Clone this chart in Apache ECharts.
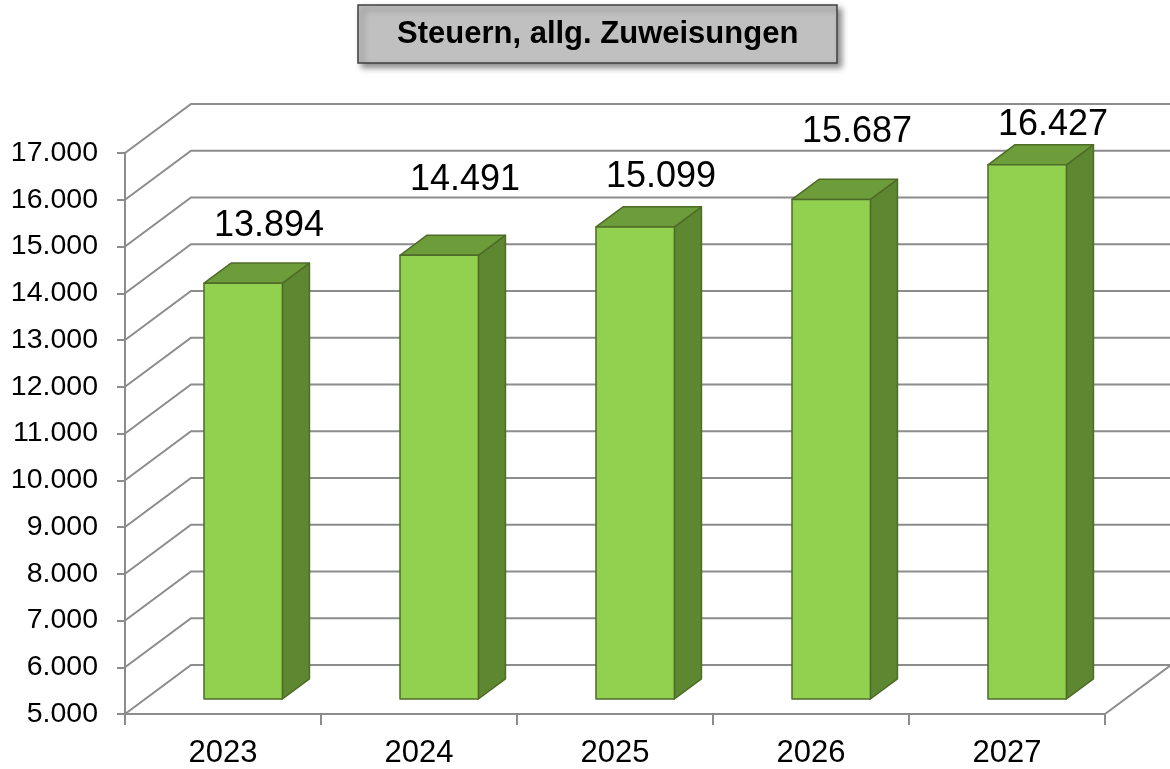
<!DOCTYPE html>
<html><head><meta charset="utf-8">
<script src="https://cdn.jsdelivr.net/npm/echarts@6/dist/echarts.min.js"></script>
<style>html,body{margin:0;padding:0;background:#fff}#c{width:1170px;height:769px}</style>
</head><body><div id="c"></div>
<script>
// ---- data ----
const titleText = 'Steuern, allg. Zuweisungen';
const categories = ['2023', '2024', '2025', '2026', '2027'];
const values = [13894, 14491, 15099, 15687, 16427];
const yTicks = [5000, 6000, 7000, 8000, 9000, 10000, 11000, 12000, 13000, 14000, 15000, 16000, 17000];

// ---- style / projection constants ----
const FONT = 'Arial, "Liberation Sans", sans-serif';
const GRID_COLOR = '#8c8c8c';
const DX = 66, DY = -49;          // depth of the 3D floor in pixels
const BAR_FRONT = 0.306;          // bar front face position inside depth
const BAR_DEPTH = 0.41;           // bar depth as fraction of floor depth
const BAR_W = 0.4;                // bar width as fraction of band
const LABEL_DX = 46;
const LABEL_LIFT = [57, 75, 50, 67, 40];
const C_FRONT = '#92d050', C_TOP = '#6c9d3a', C_SIDE = '#5d8731', C_EDGE = '#4f6b28';

function fmt(v) {
  return String(Math.round(v)).replace(/\B(?=(\d{3})+(?!\d))/g, '.');
}

const chart = echarts.init(document.getElementById('c'), null, { renderer: 'canvas' });

chart.setOption({
  backgroundColor: '#ffffff',
  animation: false,
  title: {
    text: titleText,
    left: 358, top: 5,
    padding: [13, 39, 13, 39],
    backgroundColor: '#c0c0c0',
    borderColor: '#404040',
    borderWidth: 1.5,
    shadowBlur: 6,
    shadowColor: 'rgba(0,0,0,0.45)',
    shadowOffsetX: 4,
    shadowOffsetY: 4,
    textStyle: { fontFamily: FONT, fontWeight: 'bold', fontSize: 31, color: '#000', lineHeight: 32 }
  },
  grid: { left: 125, right: 65, top: 153, bottom: 55, containLabel: false },
  xAxis: {
    type: 'category',
    data: categories,
    boundaryGap: true,
    axisLine: { show: true, lineStyle: { color: GRID_COLOR, width: 2 } },
    axisTick: { show: true, length: 11, lineStyle: { color: GRID_COLOR, width: 2 } },
    axisLabel: { fontFamily: FONT, fontSize: 31, color: '#000', margin: 24 },
    splitLine: { show: false }
  },
  yAxis: {
    type: 'value',
    min: yTicks[0], max: yTicks[yTicks.length - 1], interval: 1000,
    axisLine: { show: true, lineStyle: { color: GRID_COLOR, width: 2 } },
    axisTick: { show: true, length: 8, lineStyle: { color: GRID_COLOR, width: 2 } },
    axisLabel: { fontFamily: FONT, fontSize: 28.5, color: '#000', margin: 27, formatter: fmt },
    splitLine: { show: false }
  },
  series: [
    {
      type: 'custom', silent: true, z: 1,
      encode: { x: 0, y: 1 },
      data: yTicks.map(v => [0, v]),
      renderItem(params, api) {
        const v = api.value(1);
        const p = api.coord([0, v]);
        const band = api.size([1, 0])[0];
        const left = p[0] - band / 2;
        const right = api.coord([categories.length - 1, v])[0] + band / 2;
        const y = p[1];
        const st = { stroke: GRID_COLOR, lineWidth: 2, fill: null };
        const children = [{
          type: 'polyline',
          shape: { points: [[left, y], [left + DX, y + DY], [right + DX, y + DY]] },
          style: st
        }];
        if (v === yTicks[0]) {
          children.push({ type: 'line', shape: { x1: right, y1: y, x2: right + DX, y2: y + DY }, style: st });
        }
        return { type: 'group', children };
      }
    },
    {
      type: 'custom', silent: true, z: 5,
      encode: { x: 0, y: 1 },
      data: values.map((v, i) => [i, v]),
      renderItem(params, api) {
        const i = api.value(0), v = api.value(1);
        const base = api.coord([i, yTicks[0]]);
        const top = api.coord([i, v]);
        const band = api.size([1, 0])[0];
        const w = band * BAR_W;
        const fx = BAR_FRONT * DX, fy = BAR_FRONT * DY;
        const dx = BAR_DEPTH * DX, dy = BAR_DEPTH * DY;
        const x0 = base[0] - w / 2 + fx, x1 = base[0] + w / 2 + fx;
        const yb = base[1] + fy, yt = top[1] + fy;
        const edge = { stroke: C_EDGE, lineWidth: 1.5, lineJoin: 'round' };
        return {
          type: 'group',
          children: [
            { type: 'polygon', shape: { points: [[x1, yt], [x1 + dx, yt + dy], [x1 + dx, yb + dy], [x1, yb]] },
              style: Object.assign({ fill: C_SIDE }, edge) },
            { type: 'polygon', shape: { points: [[x0, yt], [x1, yt], [x1 + dx, yt + dy], [x0 + dx, yt + dy]] },
              style: Object.assign({ fill: C_TOP }, edge) },
            { type: 'rect', shape: { x: x0, y: yt, width: x1 - x0, height: yb - yt },
              style: Object.assign({ fill: C_FRONT }, edge) },
            { type: 'text', x: base[0] + LABEL_DX, y: yt - LABEL_LIFT[i],
              style: { text: fmt(v), fontFamily: FONT, fontSize: 36, fill: '#000', align: 'center', verticalAlign: 'middle' } }
          ]
        };
      }
    }
  ]
});
</script>
</body></html>
